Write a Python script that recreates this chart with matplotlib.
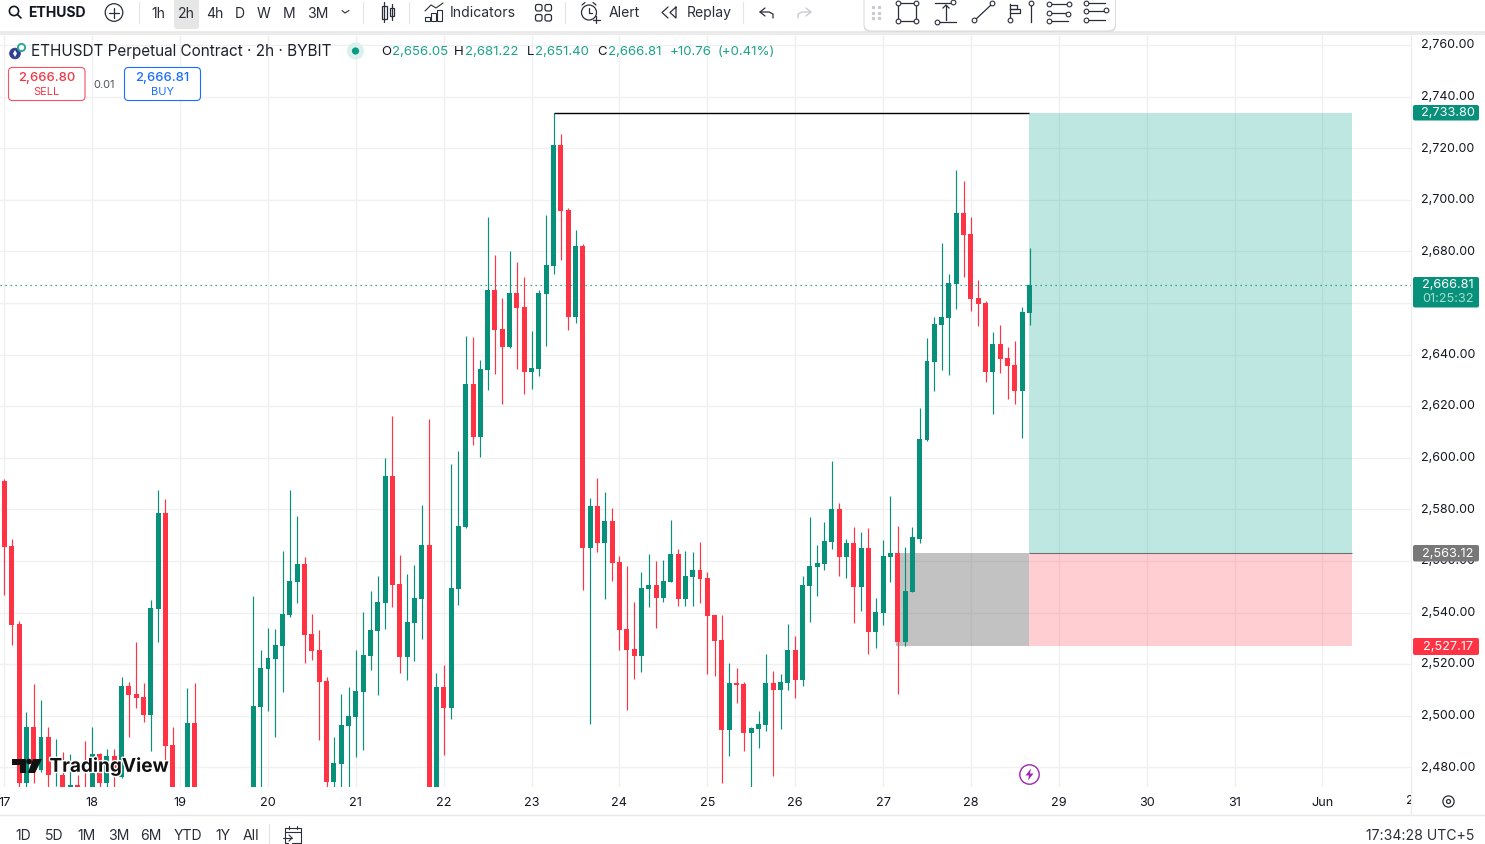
import matplotlib
matplotlib.use("Agg")
import matplotlib.pyplot as plt
from matplotlib.patches import Rectangle, FancyBboxPatch, Circle, Polygon
from matplotlib.transforms import Bbox, TransformedBbox, ScaledTranslation
import matplotlib.patheffects as pe

plt.rcParams['font.family'] = ['Inter', 'DejaVu Sans']

# 2h candles, None = bar sits below the visible range
opens = [2591, 2565.8, 2535.6, 2473.8, 2495.6, 2479, 2491.8, 2479.6, 2477, 2471, 2473.2, 2470,
         2470, 2485.2, 2473.8, 2484.4, 2476.4, 2511.5, 2508.4, 2507.3, 2500.3, 2541.4, 2578.6, 2488.7,
         None, 2465, 2497.2, None, None, None, None, None, None, None, 2465, 2503.4,
         2518.1, 2522, 2527, 2539, 2551.8, 2558.8, 2531.7, 2525.5, 2513.5, 2474.3, 2481.3, 2496,
         2499.5, 2509.2, 2523.2, 2532.8, 2543.7, 2592.9, 2551.1, 2522.8, 2535.9, 2545.2, 2566.2, 2465,
         2511.1, 2503, 2549.1, 2573.2, 2628.7, 2608, 2634.1, 2665.1, 2650, 2643, 2663.9, 2658.5,
         2633.3, 2634.5, 2663.5, 2674.4, 2721.3, 2696.1, 2654.6, 2682.1, 2565, 2581.4, 2567.1, 2575.6,
         2559.7, 2533.7, 2526, 2523.3, 2549.3, 2550.8, 2545.8, 2552, 2562.8, 2545.4, 2553.9, 2556.6,
         2553.5, 2539.2, 2529.5, 2494.6, 2512.8, 2512.4, 2493.4, 2495, 2496.5, 2512.8, 2510.1, 2512.8,
         2525.6, 2514, 2550.4, 2557.8, 2558.9, 2567.5, 2580.3, 2561.7, 2567.1, 2550, 2565.1, 2532.6,
         2540, 2561.7, 2563.2, 2528.7, 2548.1, 2568.5, 2606.8, 2637.1, 2651.4, 2654.1, 2667.3, 2694.8,
         2686.7, 2661.9, 2659.9, 2633.2, 2644.1, 2638.6, 2635.9, 2625.8, 2656.05]
highs = [2591.8, 2568.4, 2536.7, 2501.4, 2512.3, 2506, 2495.6, 2491, 2486, 2485.2, 2477, 2490.2,
         2495.6, 2485.4, 2487.1, 2487.1, 2515, 2513, 2528.6, 2512.7, 2544.9, 2587.5, 2584, 2495.6,
         None, 2510.7, 2512.7, None, None, None, None, None, None, None, 2546.4, 2525.5,
         2534, 2533.6, 2563.9, 2587.5, 2577.4, 2561.5, 2539.4, 2533.2, 2515, 2491.8, 2508.4, 2511.1,
         2525.5, 2540.2, 2548.3, 2554.2, 2599.9, 2616.2, 2562.3, 2554.9, 2558.4, 2581.7, 2615, 2516.6,
         2519.7, 2597.6, 2602.6, 2647.3, 2646.9, 2638, 2693.4, 2678.7, 2662, 2680.2, 2675.9, 2670.1,
         2649.2, 2665.1, 2694.2, 2733.8, 2725.6, 2696.9, 2688.3, 2682.9, 2584.4, 2592.3, 2586.9, 2580.6,
         2562, 2558.2, 2544.2, 2555.8, 2562.8, 2560.1, 2560.5, 2576, 2564.8, 2564, 2563.6, 2567.5,
         2555.8, 2539.2, 2539.2, 2520.6, 2518.6, 2513.2, 2495.8, 2502, 2524.1, 2517.5, 2516.3, 2535.7,
         2531, 2554.3, 2577.2, 2566.3, 2575.2, 2598.9, 2582.6, 2568.6, 2573.3, 2571.3, 2572.9, 2545.8,
         2568.2, 2585.3, 2573.7, 2565.5, 2573.3, 2619.3, 2646.4, 2654.5, 2683.2, 2671.2, 2711.5, 2707.2,
         2693.3, 2668.9, 2660.7, 2648.7, 2651.4, 2642.9, 2645.2, 2658.4, 2681.22]
lows = [2546.8, 2527.4, 2470, 2470, 2473.8, 2478, 2470, 2472.8, 2468, 2468, 2468, 2462,
        2468, 2470, 2470, 2470, 2476, 2491.8, 2503, 2497.6, 2486.3, 2528.6, 2482.8, 2465,
        None, 2460, 2460, None, None, None, None, None, None, None, 2460, 2470,
        2501.8, 2491.8, 2509.2, 2538.3, 2543.8, 2520.4, 2521.6, 2490.6, 2470, 2470, 2470, 2470,
        2484, 2486.7, 2517.7, 2508, 2533.6, 2542.1, 2516.6, 2513.9, 2521.2, 2529.7, 2460, 2460,
        2484.8, 2498.7, 2542.9, 2572.8, 2604.9, 2600.3, 2626.3, 2632.5, 2620.9, 2642.6, 2634.5, 2624.8,
        2626.7, 2631.8, 2643.4, 2671.3, 2676.7, 2649.6, 2652.3, 2548.7, 2496.8, 2563.6, 2545.4, 2552.4,
        2525.6, 2502.4, 2514.4, 2517.1, 2542.3, 2534.1, 2544.2, 2552, 2542.7, 2542.7, 2542.7, 2543.8,
        2516.3, 2515.5, 2474.1, 2484.5, 2505.1, 2486.5, 2472.5, 2487.6, 2494.2, 2476.8, 2495, 2510.1,
        2507, 2511.7, 2536.5, 2546.5, 2556.6, 2564.8, 2554.3, 2553.5, 2536.1, 2540.7, 2524.1, 2526.4,
        2535.3, 2552, 2508.6, 2527.2, 2548, 2567, 2606.5, 2625.8, 2634, 2632, 2657.6, 2670,
        2656.8, 2651, 2629.3, 2616.9, 2632.8, 2622.7, 2620.8, 2607.6, 2651.4]
closes = [2565.5, 2535.2, 2473.8, 2495.6, 2480.3, 2491.8, 2477, 2482.2, 2470, 2473.2, 2471.5, 2465,
          2485.2, 2473.8, 2484.4, 2479, 2511.5, 2508, 2506.9, 2500.3, 2541.8, 2578.6, 2488.3, 2470,
          None, 2497.2, 2465, None, None, None, None, None, None, None, 2503.8, 2518.5,
          2522.4, 2527.4, 2539.4, 2552.2, 2558.8, 2531.3, 2525.1, 2513.1, 2474.3, 2481.7, 2496.4, 2499.9,
          2509.6, 2523.5, 2533.2, 2544.1, 2592.9, 2550.7, 2522.8, 2536.3, 2545.6, 2566.2, 2465, 2511.1,
          2503, 2549.5, 2573.5, 2628.7, 2608.1, 2634.5, 2665.1, 2649.6, 2643, 2663.9, 2658.1, 2633.3,
          2634.9, 2663.9, 2674.8, 2721.3, 2695.7, 2654.6, 2682.1, 2565, 2581.3, 2567.1, 2575.6, 2559.3,
          2533.4, 2525.6, 2523.3, 2549.6, 2550.8, 2545.8, 2552.4, 2562.8, 2545.4, 2554.3, 2556.6, 2553.1,
          2538.8, 2529.1, 2494.6, 2512.8, 2512, 2493.4, 2495.4, 2496.9, 2512.8, 2510.1, 2513.2, 2525.6,
          2514, 2550.8, 2558.2, 2559.3, 2567.9, 2580.3, 2561.7, 2567.1, 2550, 2565.1, 2532.6, 2540.3,
          2562, 2563.2, 2528.7, 2548.5, 2569.4, 2607.2, 2637.5, 2651.8, 2654.5, 2667.7, 2694.8, 2686.3,
          2661.5, 2659.6, 2633.2, 2644.1, 2638.2, 2635.5, 2625.8, 2656.5, 2666.81]

price_ticks = [2480, 2500, 2520, 2540, 2560, 2580, 2600, 2620, 2640, 2660, 2680, 2700, 2720, 2740, 2760]
day_labels = ['17', '18', '19', '20', '21', '22', '23', '24', '25', '26', '27', '28', '29', '30', '31', 'Jun']

last_price = 2666.81
target = 2733.80
entry = 2563.12
stop = 2527.17

GREEN = '#08917a'
RED = '#ff3344'
INK = '#131722'
GRID = '#f0f0f1'

W, H = 1485, 844
fig = plt.figure(figsize=(W / 100, H / 100), dpi=100)
ax = fig.add_axes([0, (H - 787) / H, 1411 / W, (787 - 33) / H])

for i, (o, h, l, c) in enumerate(zip(opens, highs, lows, closes)):
    if o is None:
        continue
    col = GREEN if c >= o else RED
    ax.vlines(i, l, h, color=col, lw=0.85, zorder=3)
    ax.bar(i, abs(c - o), bottom=min(o, c), width=0.68, color=col, lw=0, zorder=3)

# long position tool
ax.add_patch(Rectangle((139.9, entry), 44.15, target - entry, fc='#03a38b', alpha=0.25, lw=0, zorder=1.5))
ax.add_patch(Rectangle((139.9, stop), 44.15, entry - stop, fc='#ff3f53', alpha=0.25, lw=0, zorder=1.5))
ax.add_patch(Rectangle((121.8, stop), 18.1, entry - stop, fc='#787878', alpha=0.45, lw=0, zorder=1.5))
ax.plot([139.9, 184.05], [entry, entry], color='#6e6e6e', lw=0.8, zorder=2, solid_capstyle='butt')
ax.plot([75, 139.9], [target, target], color='black', lw=1, zorder=4, solid_capstyle='butt')
ax.axhline(last_price, color=GREEN, lw=0.9, ls=(0, (1, 3)), zorder=4)

ax.set_xlim(-0.6, 192.1)
ax.set_ylim(2472.36, 2764.7)
ax.set_xticks(range(0, 192, 12))
ax.set_xticklabels(day_labels)
ax.set_yticks(price_ticks)
# 2,660.00 sits fully under the last price badge in the original
ax.set_yticklabels(['' if p == 2660 else f'{p:,.2f}' for p in price_ticks])
ax.yaxis.tick_right()
ax.tick_params(axis='y', length=0, pad=7.2, labelsize=9.05, labelcolor=INK)
ax.tick_params(axis='x', length=0, pad=7.1, labelsize=9.1, labelcolor=INK)
label_shift = ScaledTranslation(0, 0.9 / 72, fig.dpi_scale_trans)
for lab in ax.get_yticklabels():
    lab.set_transform(lab.get_transform() + label_shift)
ax.grid(True, color=GRID, lw=1)
ax.set_axisbelow(True)
for name, sp in ax.spines.items():
    sp.set_visible(name == 'right')
    sp.set_color('#ececec')

# everything around the plot, in screen pixels
ui = fig.add_axes([0, 0, 1, 1], zorder=5)
ui.set_xlim(0, W)
ui.set_ylim(H, 0)
ui.axis('off')
ui.patch.set_alpha(0)


def txt(x, y, s, size=14, color=INK, ha='left', weight='normal', **kw):
    return ui.text(x, y + 0.8, s, fontsize=size * 0.72, color=color, ha=ha, va='center', weight=weight, **kw)


def line(xs, ys, color='#2a2e39', lw=0.9):
    ui.plot(xs, ys, color=color, lw=lw, solid_capstyle='round')


def ring(x, y, r, color='#2a2e39', lw=0.8, fc='none'):
    ui.add_patch(Circle((x, y), r, fc=fc, ec=color, lw=lw))


def box(x0, y0, x1, y1, fc, ec='none', r=2, lw=1, z=2):
    ui.add_patch(FancyBboxPatch((x0, y0), x1 - x0, y1 - y0, boxstyle=f'round,pad=0,rounding_size={r}',
                                fc=fc, ec=ec, lw=lw, zorder=z))


# top bar
ui.add_patch(Rectangle((0, 0), W, 31, fc='white', lw=0))
ui.add_patch(Rectangle((0, 31), W, 4, fc='#ebebeb', lw=0))
ring(14, 11, 4.6, color=INK, lw=1.2)
line([17.5, 21], [14.5, 18], color=INK, lw=1.2)
txt(28, 12, 'ETHUSD', 14, weight='bold')
ring(114, 12.5, 8.8, lw=0.9)
line([109, 119], [12.5, 12.5])
line([114, 114], [7.5, 17.5])
for x in (138.5, 362.5, 409, 565, 743):
    line([x, x], [2, 23], color='#e4e4e4', lw=0.8)
box(174, -4, 199, 29, '#e6e6e6', r=3, z=1)
for x, s in zip((158, 186, 215, 240, 264, 289, 318), ('1h', '2h', '4h', 'D', 'W', 'M', '3M')):
    txt(x, 13, s, 14, '#2a2e39', ha='center')
line([342, 345, 349], [10.5, 13, 10.5], lw=0.8)
# candle icon
ui.add_patch(Rectangle((381.5, 6), 5, 13, fc='none', ec='#2a2e39', lw=0.9))
ui.add_patch(Rectangle((389.5, 8), 4, 8, fc='none', ec='#2a2e39', lw=0.9))
line([384, 384], [2, 22])
line([391.5, 391.5], [4, 20])
# indicators icon
for x0, top in ((425, 17), (431, 13), (437, 10)):
    ui.add_patch(Rectangle((x0, top), 5, 21 - top, fc='none', ec='#2a2e39', lw=0.8))
line([425, 431, 436, 443], [11, 5, 8, 3], lw=0.8)
txt(450, 12.5, 'Indicators', 14, '#2a2e39')
for x0 in (535.5, 545):
    for y0 in (4.5, 14.5):
        box(x0, y0, x0 + 6.5, y0 + 6.5, 'none', ec='#2a2e39', r=2, lw=0.9)
# alert
ring(589, 12.5, 7.5, lw=0.9)
line([589, 589, 592], [8, 13, 13])
line([582, 585], [5, 2.5])
line([596, 593], [5, 2.5])
line([596, 596], [16, 23], lw=0.9)
line([592.5, 599.5], [19.5, 19.5], lw=0.9)
txt(609, 12.5, 'Alert', 14, '#2a2e39')
line([668, 662, 668], [7, 12.5, 18])
line([676, 670, 676, 676], [7, 12.5, 18, 7])
txt(686.5, 12.5, 'Replay', 14, '#2a2e39')
line([765, 760, 765], [8, 12, 16])
line([760, 769, 773, 773], [12, 12, 14, 18])
line([806, 811, 806], [8, 12, 16], color='#c4c6cc')
line([811, 802, 798, 798], [12, 12, 14, 18], color='#c4c6cc')

# floating drawing toolbar
box(863.5, -6, 1116, 32, '#dcdcdc', z=2, r=7)
box(864.5, -6, 1115, 30.5, 'white', z=2, r=7)
for x in (873, 879):
    for y in (7, 12.5, 18):
        ui.plot([x], [y], 's', ms=1.3, color='#c8cacf', zorder=3)


def node(x, y):
    ui.plot([x], [y], 'o', ms=3.4, mfc='white', mec='#2a2e39', mew=0.8, zorder=4)


def tool(xs, ys):
    ui.plot(xs, ys, color='#2a2e39', lw=0.9, zorder=3)


tool([898, 916, 916, 898, 898], [3, 3, 21, 21, 3])
for px, py in ((898, 3), (916, 3), (898, 21), (916, 21)):
    node(px, py)
tool([935, 953], [3, 3])
tool([938, 956], [22, 22])
tool([946, 946], [6, 20])
tool([943, 946, 949], [8, 5, 8])
node(953, 2)
node(937, 22)
tool([975, 991], [20, 5])
node(974, 20)
node(992, 3)
tool([1010, 1010], [4, 17])
tool([1010, 1017, 1017, 1010], [5, 5, 9, 9])
tool([1010, 1020, 1020, 1010], [9, 9, 13, 13])
tool([1031, 1031], [5, 22])
node(1010, 20)
node(1031, 3)
for y in (4, 13, 21):
    tool([1050, 1068], [y, y])
    node(1049, y)
node(1068, 14)
node(1069, 4)
for y in (3, 11, 20):
    tool([1087, 1105], [y, y])
    node(1086, y)
node(1106, 10)

# legend
ring(15, 53.5, 5.4, color='#2f3f8f', fc='#2f3f8f', lw=0.5)
ui.add_patch(Polygon([(15, 50), (17, 53.5), (15, 57), (13, 53.5)], fc='white', lw=0))
ring(21.5, 47.5, 3.6, color='#2fa89a', lw=1.4)
txt(31, 51, 'ETHUSDT Perpetual Contract · 2h · BYBIT', 15.3, '#1e222d')
ring(355.5, 51, 8.5, color='#d9f0ec', fc='#d9f0ec', lw=0)
ring(355.5, 51, 3.6, color='#089981', fc='#089981', lw=0)
LEG = '#1ba28a'
for x, s, col in ((381, 'O', INK), (392, '2,656.05', LEG), (454, 'H', INK), (465, '2,681.22', LEG),
                  (527, 'L', INK), (535, '2,651.40', LEG), (597, 'C', INK), (608, '2,666.81', LEG),
                  (670, '+10.76', LEG), (717.5, '(+0.41%)', LEG)):
    txt(x, 51.2, s, 13.2, col)
box(8.5, 67.5, 85, 100.5, 'white', ec='#f7525f', r=4, lw=0.8)
txt(46.5, 77.5, '2,666.80', 13, '#f23645', ha='center', weight='medium')
txt(46.5, 91.5, 'SELL', 11, '#f23645', ha='center')
txt(104, 84, '0.01', 11, '#50535e', ha='center')
box(124.5, 67.5, 200.5, 100.5, 'white', ec='#1a6eff', r=4, lw=0.8)
txt(162.5, 77.5, '2,666.81', 13, '#1a6eff', ha='center', weight='medium')
txt(162.5, 91.5, 'BUY', 11, '#1a6eff', ha='center')

# price badges
for y0, y1, col, s in ((105, 120.5, GREEN, f'{target:,.2f}'), (545, 561.5, '#787878', f'{entry:,.2f}'),
                       (638, 655, RED, f'{stop:,.2f}')):
    box(1413, y0, 1479, y1, col)
    txt(1448, (y0 + y1) / 2 - 0.5, s, 12.8, 'white', ha='center', zorder=3)
box(1413, 277, 1479, 307.5, GREEN)
txt(1448, 284.5, f'{last_price:,.2f}', 12.8, 'white', ha='center', zorder=3)
txt(1448, 298, '01:25:32', 12.8, '#a4dcd2', ha='center', zorder=3)

# watermark
ui.add_patch(Polygon([(12.3, 759), (25.7, 759), (25.7, 773), (19.7, 773), (19.7, 764.5), (12.3, 764.5)],
                     fc='#111111', lw=0))
ui.add_patch(Circle((29, 761.5), 2.8, fc='#111111', lw=0))
ui.add_patch(Polygon([(33, 759), (42, 759), (35, 773), (27.7, 773)], fc='#111111', lw=0))
txt(49.5, 765.5, 'TradingView', 19, '#111111', weight='bold',
    path_effects=[pe.withStroke(linewidth=2, foreground='white')])

# bolt marker
ring(1029.5, 774.5, 9.7, color='#9c27b0', lw=1, fc='white')
ui.add_patch(Polygon([(1031, 768.5), (1025.5, 775.5), (1029, 775.5), (1028, 780.5), (1033.5, 773.5),
                      (1030, 773.5)], fc='#9c27b0', lw=0))

# time axis end + gear
t = txt(1410.2, 800.5, '2', 13, ha='center')
t.set_clip_box(TransformedBbox(Bbox([[0, 780], [1411, 815]]), ui.transData))
t.set_clip_on(True)
ring(1448.5, 801.5, 5.6, lw=0.9)
ring(1448.5, 801.5, 2, lw=0.9)

# bottom bar
line([0, W], [815, 815], color='#e8e8e8', lw=1)
line([1411, 1411], [787, 815], color='#ececec', lw=1)
for x, s in zip((23.5, 54, 86, 118.5, 151, 187.5, 222.5, 251), ('1D', '5D', '1M', '3M', '6M', 'YTD', '1Y', 'All')):
    txt(x, 835, s, 14, '#2a2e39', ha='center')
line([269, 269], [824, 844], color='#e4e4e4', lw=0.8)
line([288, 284.5, 284.5, 301, 301, 292], [843, 843, 828, 828, 843, 843], lw=0.8)
line([284.5, 301], [832, 832], lw=0.8)
line([289, 289], [826, 829], lw=0.8)
line([297, 297], [826, 829], lw=0.8)
line([283, 292], [838, 838], lw=0.8)
line([289, 292, 289], [835, 838, 841], lw=0.8)
txt(1474, 835, '17:34:28 UTC+5', 14, '#2a2e39', ha='right')

fig.savefig('out.png', dpi=100)
